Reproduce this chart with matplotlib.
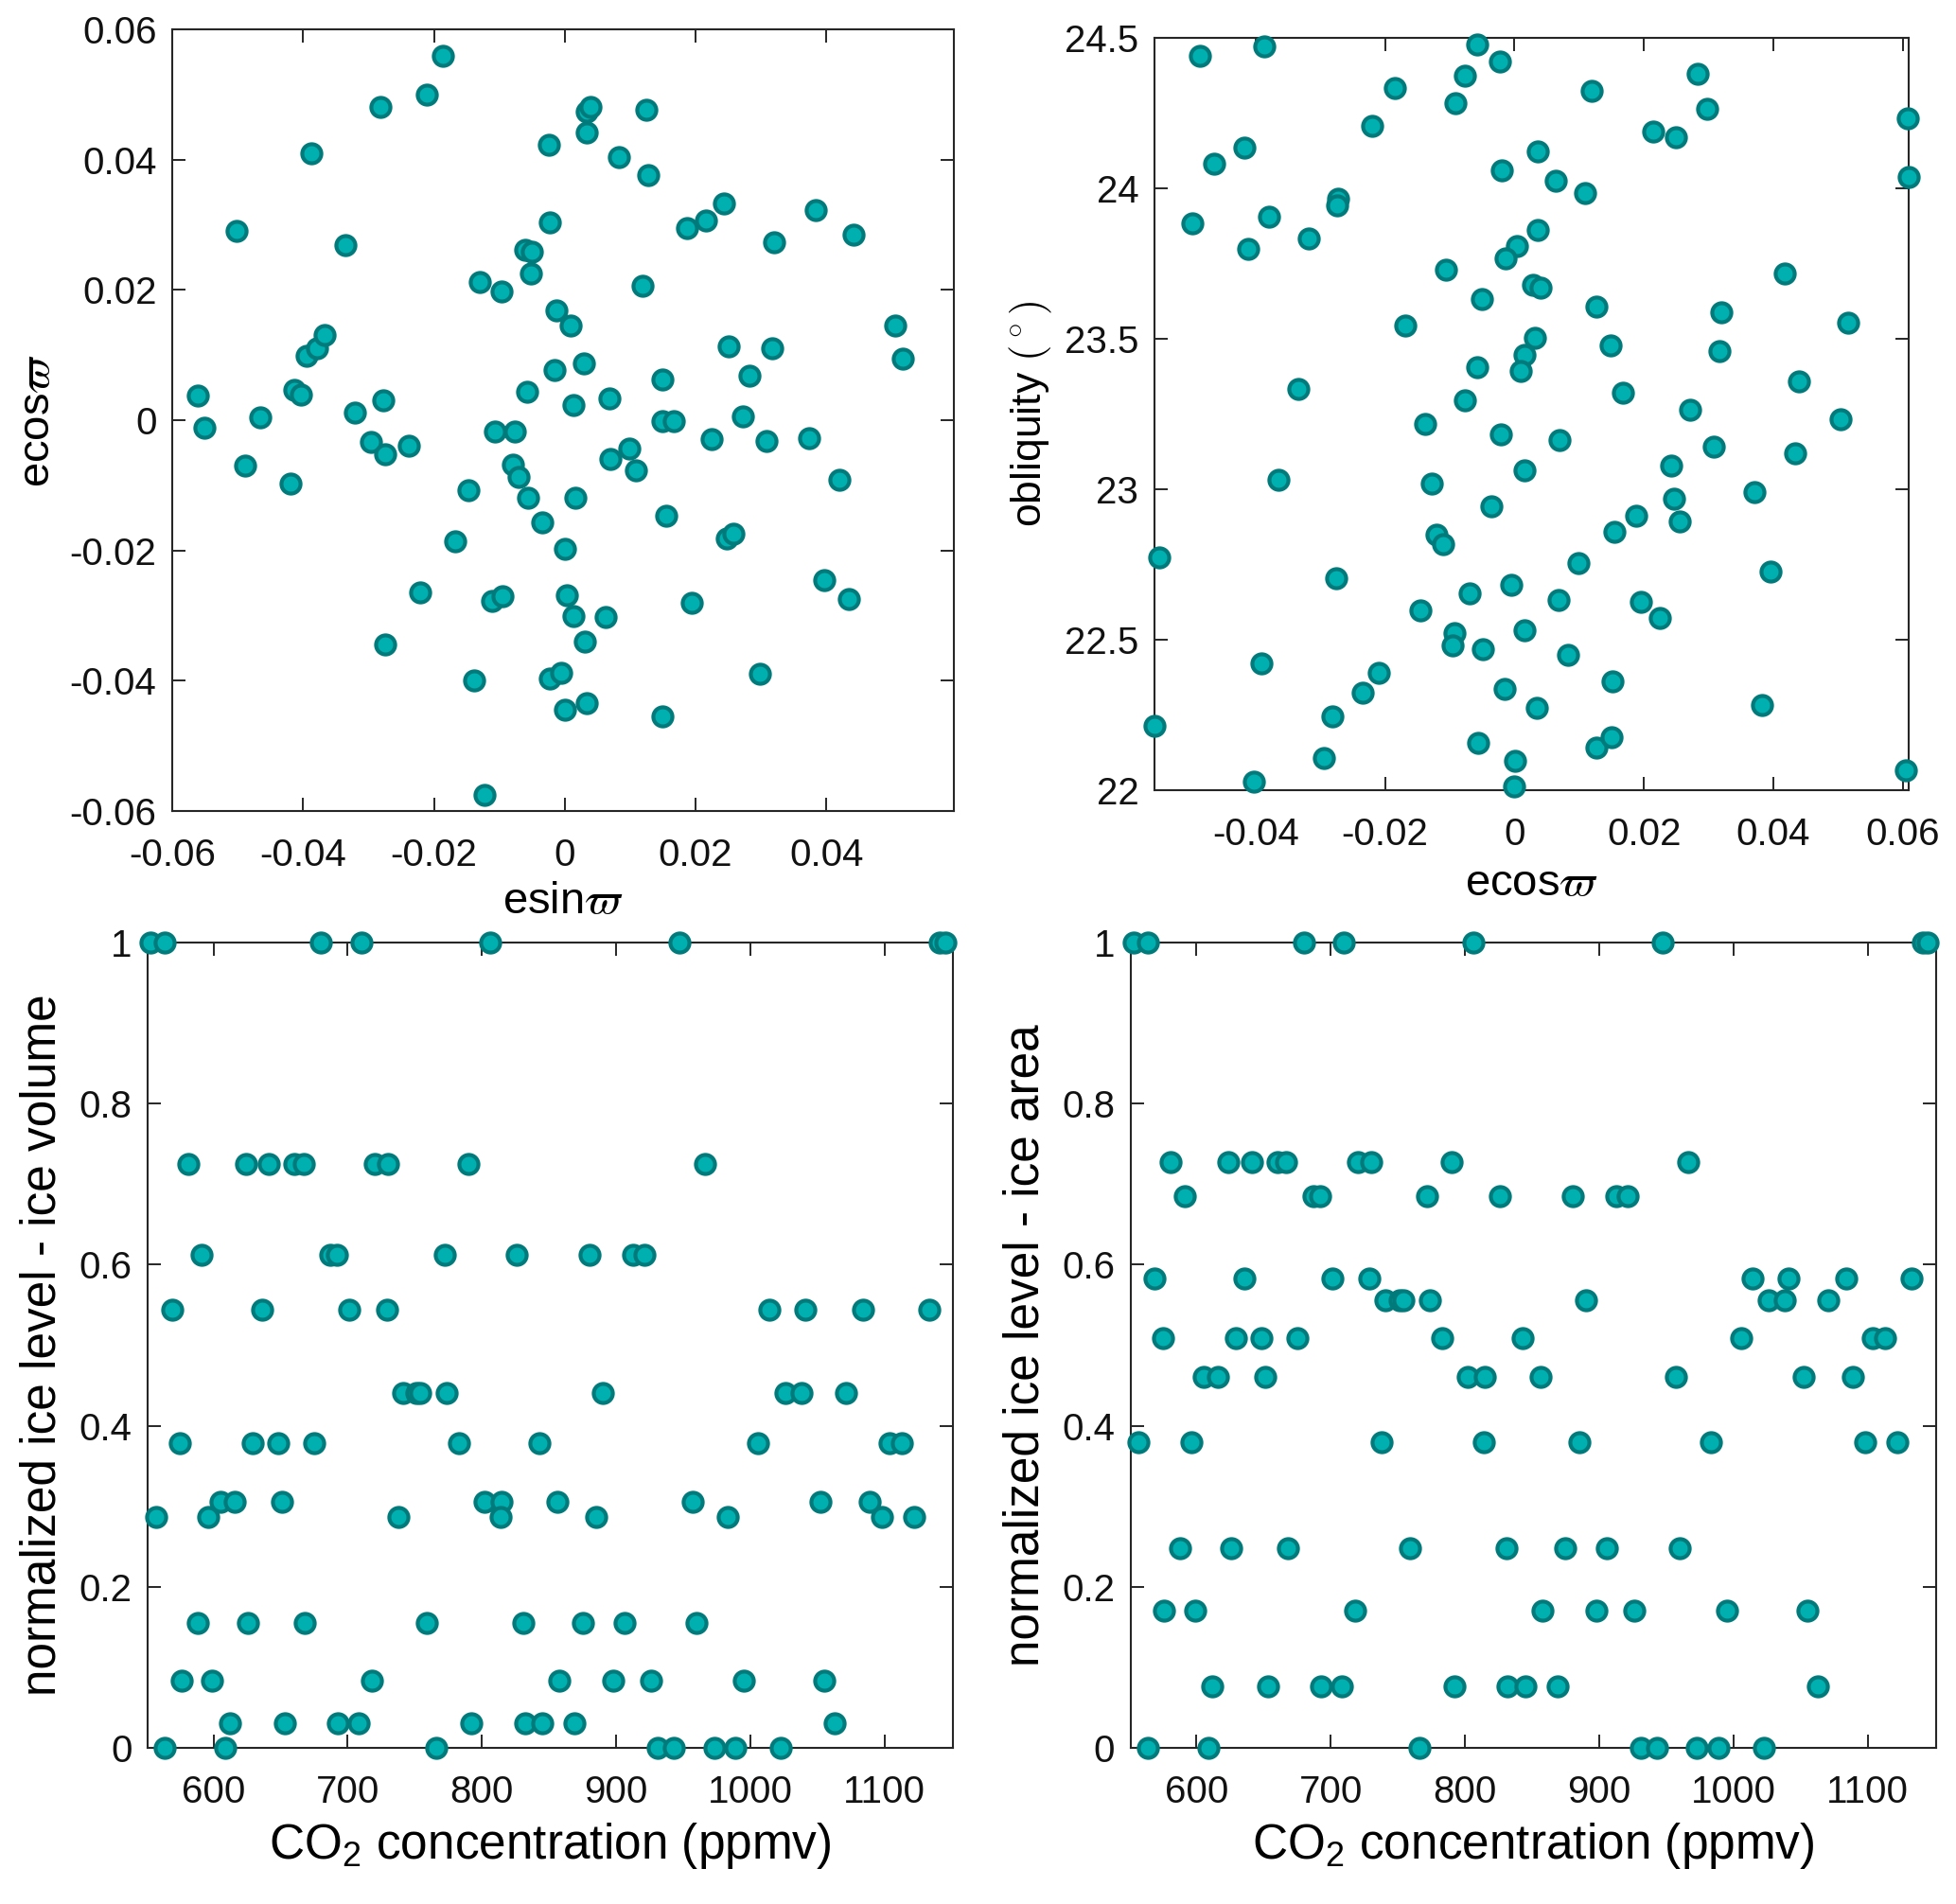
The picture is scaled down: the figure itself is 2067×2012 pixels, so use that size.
import matplotlib
matplotlib.use('Agg')
import matplotlib.pyplot as plt

plt.rcParams['font.family'] = ['Liberation Sans', 'DejaVu Sans']
plt.rcParams['axes.unicode_minus'] = False
plt.rcParams['mathtext.fontset'] = 'custom'
plt.rcParams['mathtext.rm'] = 'Liberation Sans'
plt.rcParams['mathtext.it'] = 'Liberation Sans:italic'

# panel a: esin(varpi) vs ecos(varpi)
esin_a = [-0.0561, -0.0551, -0.0502, -0.0489, -0.0466, -0.0420, -0.0414, -0.0404, -0.0394, -0.0387,
          -0.0379, -0.0367, -0.0336, -0.0321, -0.0297, -0.0282, -0.0277, -0.0274, -0.0275, -0.0238,
          -0.0221, -0.0211, -0.0187, -0.0168, -0.0147, -0.0139, -0.0130, -0.0122, -0.0111, -0.0107,
          -0.0097, -0.0095, -0.0079, -0.0077, -0.0071, -0.0060, -0.0057, -0.0056, -0.0052, -0.0050,
          -0.0034, -0.0025, -0.0023, -0.0023, -0.0016, -0.0013, -0.0005, 0.0000, 0.0000, 0.0003,
          0.0009, 0.0013, 0.0014, 0.0016, 0.0029, 0.0030, 0.0033, 0.0034, 0.0039, 0.0034,
          0.0062, 0.0068, 0.0069, 0.0083, 0.0098, 0.0109, 0.0119, 0.0125, 0.0127, 0.0149,
          0.0150, 0.0150, 0.0155, 0.0167, 0.0187, 0.0194, 0.0216, 0.0225, 0.0243, 0.0247,
          0.0250, 0.0258, 0.0272, 0.0283, 0.0298, 0.0309, 0.0317, 0.0320, 0.0373, 0.0383,
          0.0397, 0.0420, 0.0435, 0.0441, 0.0505, 0.0517]
ecos_a = [0.0037, -0.0011, 0.0291, -0.0070, 0.0005, -0.0097, 0.0047, 0.0039, 0.0099, 0.0409,
          0.0110, 0.0131, 0.0269, 0.0012, -0.0033, 0.0481, 0.0031, -0.0053, -0.0344, -0.0039,
          -0.0265, 0.0500, 0.0560, -0.0186, -0.0107, -0.0400, 0.0212, -0.0575, -0.0277, -0.0017,
          0.0197, -0.0271, -0.0068, -0.0018, -0.0087, 0.0261, 0.0044, -0.0119, 0.0225, 0.0258,
          -0.0157, 0.0422, 0.0303, -0.0396, 0.0077, 0.0168, -0.0388, -0.0198, -0.0444, -0.0269,
          0.0145, -0.0301, 0.0023, -0.0119, 0.0087, -0.0340, 0.0442, 0.0473, 0.0481, -0.0434,
          -0.0303, 0.0034, -0.0059, 0.0404, -0.0043, -0.0077, 0.0206, 0.0477, 0.0376, 0.0062,
          -0.0001, -0.0455, -0.0147, -0.0002, 0.0295, -0.0280, 0.0307, -0.0029, 0.0333, -0.0181,
          0.0113, -0.0174, 0.0006, 0.0068, -0.0389, -0.0032, 0.0110, 0.0273, -0.0027, 0.0322,
          -0.0246, -0.0092, -0.0274, 0.0285, 0.0145, 0.0094]

# panel b: ecos(varpi) vs obliquity
ecos_b = [-0.0486, -0.0386, -0.0058, -0.0023, -0.0076, -0.0185, -0.0091, 0.0120, 0.0283, 0.0297,
          0.0608, -0.0220, 0.0215, 0.0250, -0.0417, -0.0464, 0.0036, -0.0020, 0.0064, 0.0109,
          0.0609, -0.0273, -0.0274, -0.0498, -0.0379, -0.0411, -0.0318, 0.0036, 0.0004, -0.0013,
          -0.0106, 0.0418, 0.0029, 0.0041, -0.0050, 0.0127, 0.0320, -0.0168, 0.0516, 0.0031,
          0.0149, 0.0015, 0.0316, -0.0057, 0.0010, -0.0334, 0.0439, 0.0167, -0.0077, 0.0272,
          0.0504, -0.0138, -0.0021, 0.0070, 0.0308, 0.0434, 0.0015, 0.0242, -0.0364, -0.0128,
          0.0371, 0.0247, -0.0035, 0.0188, 0.0256, -0.0121, -0.0110, 0.0155, -0.0549, 0.0099,
          0.0396, -0.0275, -0.0005, -0.0069, 0.0068, 0.0195, -0.0145, 0.0225, -0.0093, 0.0016,
          -0.0095, -0.0049, 0.0083, -0.0391, -0.0209, -0.0235, -0.0015, 0.0151, -0.0281, 0.0034,
          0.0383, -0.0556, -0.0056, -0.0295, 0.0001, 0.0126, 0.0150, -0.0402, -0.0001, 0.0605]
obliq_b = [24.440, 24.472, 24.478, 24.420, 24.374, 24.334, 24.282, 24.324, 24.382, 24.264,
           24.234, 24.208, 24.188, 24.170, 24.135, 24.083, 24.123, 24.059, 24.025, 23.983,
           24.039, 23.967, 23.943, 23.883, 23.907, 23.799, 23.833, 23.863, 23.807, 23.767,
           23.729, 23.717, 23.679, 23.669, 23.631, 23.607, 23.587, 23.545, 23.553, 23.504,
           23.478, 23.448, 23.458, 23.406, 23.394, 23.332, 23.358, 23.322, 23.296, 23.264,
           23.234, 23.216, 23.182, 23.164, 23.140, 23.118, 23.064, 23.080, 23.032, 23.020,
           22.990, 22.970, 22.942, 22.913, 22.893, 22.849, 22.817, 22.859, 22.775, 22.755,
           22.725, 22.705, 22.681, 22.653, 22.631, 22.625, 22.599, 22.571, 22.523, 22.531,
           22.481, 22.469, 22.449, 22.421, 22.389, 22.323, 22.335, 22.361, 22.246, 22.274,
           22.284, 22.214, 22.158, 22.106, 22.098, 22.140, 22.176, 22.028, 22.012, 22.066]

# panels c, d: CO2 vs normalized ice level
co2 = [553, 564, 680, 710, 806, 947, 1141, 1145,
       581, 624, 641, 660, 667, 720, 730, 790, 966,
       591, 687, 692, 772, 826, 880, 913, 921,
       569, 636, 701, 729, 1014, 1041, 1084, 1133,
       741, 751, 754, 774, 890, 1026, 1038, 1071,
       575, 629, 648, 675, 783, 843, 1006, 1104, 1113,
       605, 616, 651, 802, 815, 856, 957, 1052, 1089,
       557, 596, 738, 814, 885, 983, 1098, 1122,
       588, 626, 668, 759, 831, 875, 906, 960,
       576, 599, 718, 858, 898, 926, 995, 1055,
       612, 653, 693, 708, 792, 832, 845, 869, 1063,
       564, 609, 766, 931, 943, 973, 989, 1023]
ice_vol = [1, 1, 1, 1, 1, 1, 1, 1,
           0.725, 0.725, 0.725, 0.725, 0.725, 0.725, 0.725, 0.725, 0.725,
           0.612, 0.612, 0.612, 0.612, 0.612, 0.612, 0.612, 0.612,
           0.544, 0.544, 0.544, 0.544, 0.544, 0.544, 0.544, 0.544,
           0.441, 0.441, 0.441, 0.441, 0.441, 0.441, 0.441, 0.441,
           0.378, 0.378, 0.378, 0.378, 0.378, 0.378, 0.378, 0.378, 0.378,
           0.305, 0.305, 0.305, 0.305, 0.305, 0.305, 0.305, 0.305, 0.305,
           0.287, 0.287, 0.287, 0.287, 0.287, 0.287, 0.287, 0.287,
           0.155, 0.155, 0.155, 0.155, 0.155, 0.155, 0.155, 0.155,
           0.083, 0.083, 0.083, 0.083, 0.083, 0.083, 0.083, 0.083,
           0.031, 0.031, 0.031, 0.031, 0.031, 0.031, 0.031, 0.031, 0.031,
           0, 0, 0, 0, 0, 0, 0, 0]
ice_area = [1, 1, 1, 1, 1, 1, 1, 1,
            0.727, 0.727, 0.727, 0.727, 0.727, 0.727, 0.727, 0.727, 0.727,
            0.685, 0.685, 0.685, 0.685, 0.685, 0.685, 0.685, 0.685,
            0.583, 0.583, 0.583, 0.583, 0.583, 0.583, 0.583, 0.583,
            0.556, 0.556, 0.556, 0.556, 0.556, 0.556, 0.556, 0.556,
            0.509, 0.509, 0.509, 0.509, 0.509, 0.509, 0.509, 0.509, 0.509,
            0.461, 0.461, 0.461, 0.461, 0.461, 0.461, 0.461, 0.461, 0.461,
            0.380, 0.380, 0.380, 0.380, 0.380, 0.380, 0.380, 0.380,
            0.248, 0.248, 0.248, 0.248, 0.248, 0.248, 0.248, 0.248,
            0.170, 0.170, 0.170, 0.170, 0.170, 0.170, 0.170, 0.170,
            0.076, 0.076, 0.076, 0.076, 0.076, 0.076, 0.076, 0.076, 0.076,
            0, 0, 0, 0, 0, 0, 0, 0]

face = '#00b0b0'
edge = '#007a7a'
frame = '#262626'


def style(ax, xt, xl, yt, yl):
    ax.set_xticks(xt)
    ax.set_xticklabels(xl)
    ax.set_yticks(yt)
    ax.set_yticklabels(yl)
    ax.tick_params(direction='in', length=10, width=1.4, top=True, right=True,
                   labelsize=29, colors=frame, labelcolor='#111111')
    ax.tick_params(axis='x', pad=20)
    ax.tick_params(axis='y', pad=12)
    for s in ax.spines.values():
        s.set_color(frame)
        s.set_linewidth(1.5)


def dots(ax, x, y):
    ax.plot(x, y, 'o', ms=14.5, mfc=face, mec=edge, mew=3, clip_on=False, zorder=3)


fig = plt.figure(figsize=(20.67, 20.12), dpi=100)

ax1 = fig.add_axes([0.0881, 0.5741, 0.3996, 0.4105])
dots(ax1, esin_a, ecos_a)
ax1.set_xlim(-0.06, 0.0595)
ax1.set_ylim(-0.06, 0.06)
style(ax1, [-0.06, -0.04, -0.02, 0, 0.02, 0.04], ['-0.06', '-0.04', '-0.02', '0', '0.02', '0.04'],
      [-0.06, -0.04, -0.02, 0, 0.02, 0.04, 0.06], ['-0.06', '-0.04', '-0.02', '0', '0.02', '0.04', '0.06'])
ax1.set_xlabel(r'esin$\varpi$', fontsize=34, math_fontfamily='cm', labelpad=6)
ax1.set_ylabel(r'ecos$\varpi$', fontsize=34, math_fontfamily='cm', labelpad=8)

ax2 = fig.add_axes([0.5902, 0.5850, 0.3856, 0.3951])
dots(ax2, ecos_b, obliq_b)
ax2.set_xlim(min(ecos_b), max(ecos_b))
ax2.set_ylim(22, 24.5)
style(ax2, [-0.04, -0.02, 0, 0.02, 0.04, 0.06], ['-0.04', '-0.02', '0', '0.02', '0.04', '0.06'],
      [22, 22.5, 23, 23.5, 24, 24.5], ['22', '22.5', '23', '23.5', '24', '24.5'])
ax2.set_xlabel(r'ecos$\varpi$', fontsize=34, math_fontfamily='cm', labelpad=8)
ax2.set_ylabel(r'obliquity $(^\circ)$', fontsize=32, math_fontfamily='cm', labelpad=8)

ax3 = fig.add_axes([0.0755, 0.0820, 0.4117, 0.4230])
dots(ax3, co2, ice_vol)
ax3.set_xlim(551, 1151)
ax3.set_ylim(0, 1)
style(ax3, [600, 700, 800, 900, 1000, 1100], ['600', '700', '800', '900', '1000', '1100'],
      [0, 0.2, 0.4, 0.6, 0.8, 1], ['0', '0.2', '0.4', '0.6', '0.8', '1'])
ax3.set_xlabel(r'CO$_\mathrm{2}$ concentration (ppmv)', fontsize=37, labelpad=8)
ax3.set_ylabel('normalized ice level - ice volume', fontsize=37, labelpad=10)

ax4 = fig.add_axes([0.5781, 0.0820, 0.4117, 0.4230])
dots(ax4, co2, ice_area)
ax4.set_xlim(551, 1151)
ax4.set_ylim(0, 1)
style(ax4, [600, 700, 800, 900, 1000, 1100], ['600', '700', '800', '900', '1000', '1100'],
      [0, 0.2, 0.4, 0.6, 0.8, 1], ['0', '0.2', '0.4', '0.6', '0.8', '1'])
ax4.set_xlabel(r'CO$_\mathrm{2}$ concentration (ppmv)', fontsize=37, labelpad=8)
ax4.set_ylabel('normalized ice level - ice area', fontsize=37, labelpad=10)

fig.savefig('out.png', dpi=100)
